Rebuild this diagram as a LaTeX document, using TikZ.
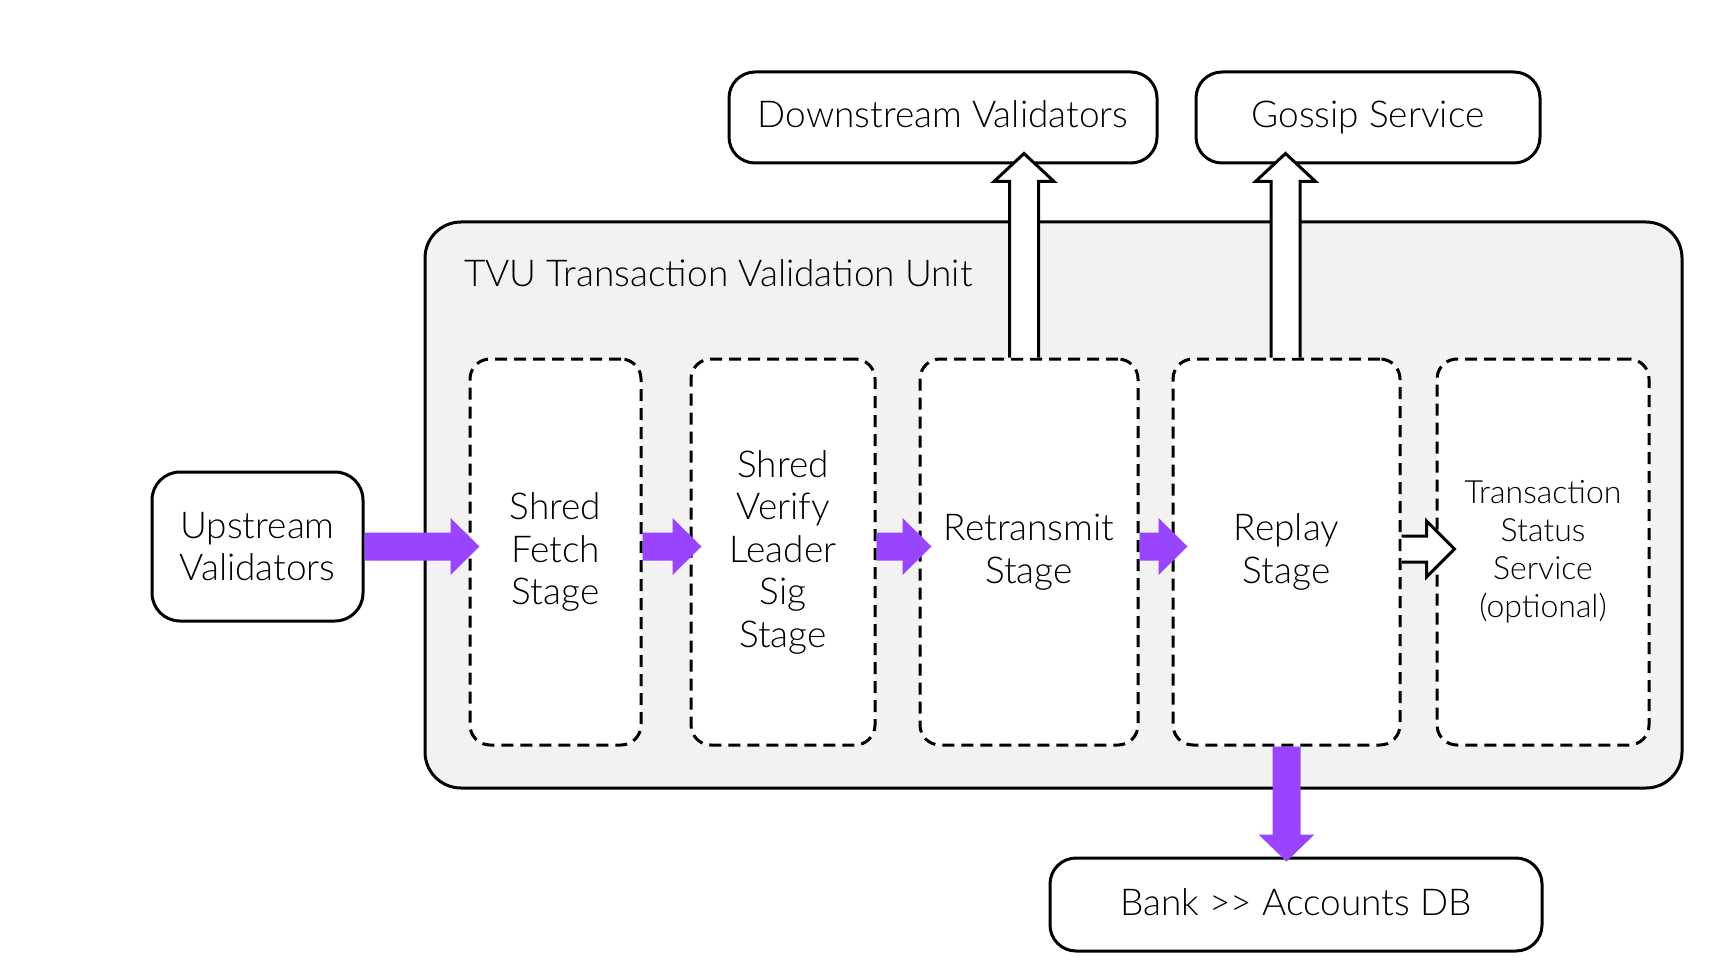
\documentclass[tikz,border=0pt]{standalone}
\usepackage{fontspec}
\setmainfont{Lato}[UprightFont=* Light]
\usetikzlibrary{calc}
\definecolor{purp}{RGB}{153,69,255}
\definecolor{tvubg}{RGB}{242,242,242}
\begin{document}
\begin{tikzpicture}[x=1pt,y=-1pt,
  mainfont/.style={font=\fontsize{37}{42.5}\selectfont},
  solidbox/.style={draw=black,line width=3pt,rounded corners=#1,fill=white,align=center,inner sep=0pt,mainfont},
  solidbox/.default=28pt,
  oneline/.style={text height=27pt,text depth=6pt},
  stagebox/.style={draw=black,line width=3pt,dash pattern=on 12pt off 7pt,rounded corners=20pt,fill=white,align=center,inner sep=0pt,minimum height=386pt,mainfont},
  purparrow/.style={fill=purp},
  hollowarrow/.style={fill=white,draw=black,line width=3pt,line join=miter}
]
\useasboundingbox (0,0) rectangle (1731,968);
\fill[white] (0,0) rectangle (1731,968);

% container
\draw[line width=3pt,fill=tvubg,rounded corners=36pt] (425,222) rectangle (1682,788);
\node[anchor=west,inner sep=0pt,mainfont] (title) at (464,273) {TVU Transaction Validation Unit};

% outer boxes
\node[solidbox,minimum width=211pt,minimum height=149pt] (up) at (257.5,546.5) {Upstream\\Validators};
\node[solidbox=26pt,oneline,minimum width=428pt,minimum height=91pt] (down) at (943,117.5) {Downstream Validators};
\node[solidbox=26pt,oneline,minimum width=344pt,minimum height=91pt] (gossip) at (1368,117.5) {Gossip Service};
\node[solidbox=26pt,oneline,minimum width=492pt,minimum height=93pt] (bank) at (1296,904.5) {Bank >{}> Accounts DB};

% stages
\node[stagebox,minimum width=171pt] (fetch) at (555.5,552) {Shred\\Fetch\\Stage};
\node[stagebox,minimum width=184pt] (verify) at (783,552) {Shred\\Verify\\Leader\\Sig\\Stage};
\node[stagebox,minimum width=218pt] (retr) at (1029,552) {Retransmit\\Stage};
\node[stagebox,minimum width=227pt] (replay) at (1286.5,552) {Replay\\Stage};
\node[stagebox,minimum width=212pt,font=\fontsize{32}{38}\selectfont] (tss) at (1543,552) {Transaction\\Status\\Service\\(optional)};

% purple horizontal arrows
\newcommand\purph[3]{%
  \fill[purparrow] let \p1=(#1), \p2=(#2) in
    (\x1,\y1+14) -- (\x2+#3-29,\y1+14) -- (\x2+#3-29,\y1+28.5) -- (\x2+#3,\y1)
    -- (\x2+#3-29,\y1-28.5) -- (\x2+#3-29,\y1-14) -- (\x1,\y1-14) -- cycle;}
\purph{up.east}{fetch.west}{11}
\purph{fetch.east |- up.east}{verify.west}{12}
\purph{verify.east |- up.east}{retr.west}{13}
\purph{retr.east |- up.east}{replay.west}{16}

% purple down arrow
\fill[purparrow] let \p1=(replay.south), \p2=(bank.north) in
  (\x1-14,\y1) -- (\x1-14,\y2+22) -- (\x1-28,\y2+22) -- (\x1,\y2-5)
  -- (\x1+28,\y2+22) -- (\x1+14,\y2+22) -- (\x1+14,\y1) -- cycle;

% hollow up arrows
\newcommand\hollowup[3]{%
  \path[hollowarrow] let \p1=([xshift=#3]#1), \p2=(#2) in
    (\x1-14.5,\y1) -- (\x1-14.5,\y2-17) -- (\x1-30,\y2-17) -- (\x1,\y2+11)
    -- (\x1+30,\y2-17) -- (\x1+14.5,\y2-17) -- (\x1+14.5,\y1);}
\hollowup{retr.north}{down.south}{-5pt}
\hollowup{replay.north}{gossip.south}{-1pt}

% hollow right arrow
\path[hollowarrow] let \p1=([yshift=3pt]replay.east), \p2=(tss.west) in
  (\x1,\y1+13) -- (\x2-9,\y1+13) -- (\x2-9,\y1+28) -- (\x2+19,\y1)
  -- (\x2-9,\y1-28) -- (\x2-9,\y1-13) -- (\x1,\y1-13);
\end{tikzpicture}
\end{document}
